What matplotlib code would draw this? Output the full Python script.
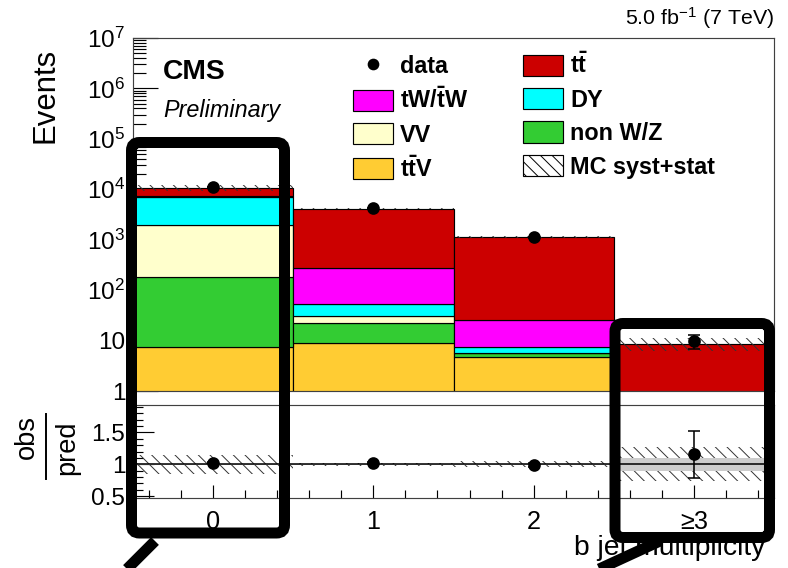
import numpy as np
import matplotlib.pyplot as plt
from matplotlib.patches import FancyBboxPatch, Patch
from matplotlib.lines import Line2D
from matplotlib.ticker import FixedLocator, MultipleLocator, LogLocator, FuncFormatter, NullFormatter

plt.rcParams['font.family'] = ['Liberation Sans', 'DejaVu Sans']
plt.rcParams['mathtext.fontset'] = 'custom'
plt.rcParams['mathtext.rm'] = 'Liberation Sans'
plt.rcParams['mathtext.bf'] = 'Liberation Sans:bold'
plt.rcParams['mathtext.it'] = 'Liberation Sans:italic'
plt.rcParams['mathtext.sf'] = 'Liberation Sans'
plt.rcParams['hatch.linewidth'] = 0.5

# b jet multiplicity bins
bins = [0, 1, 2, 3]
bin_labels = ['0', '1', '2', '≥3']

# observed events
data = [11000, 4180, 1120, 10]

# MC stack, bottom to top
ttv = [7.6, 8.9, 4.8, 0.3]
nonwz = [175, 13.3, 0.8, 0.05]
vv = [1750, 9.2, 0.2, 0.02]
dy = [5200, 21.6, 1.5, 0.1]
tw = [300, 217, 18.5, 0.4]
ttbar = [3300, 3830, 1111, 7.8]

# relative uncertainties
syst_rel = [0.15, 0.02, 0.05, 0.27]
stat_rel = [0.01, 0.005, 0.01, 0.10]

stack = [
    (ttv, '#ffcc33', r'$\mathbf{t\bar{t}V}$'),
    (nonwz, '#33cc33', 'non W/Z'),
    (vv, '#ffffcc', 'VV'),
    (dy, '#00ffff', 'DY'),
    (tw, '#ff00ff', r'$\mathbf{tW/\bar{t}W}$'),
    (ttbar, '#cc0000', r'$\mathbf{t\bar{t}}$'),
]

HATCH = '\\\\\\\\'

W, H, DPI = 788, 568, 140
fig = plt.figure(figsize=(W / DPI, H / DPI), dpi=DPI)
ax = fig.add_axes([133 / W, 1 - 391 / H, (774 - 133) / W, (391 - 38) / H])
rax = fig.add_axes([133 / W, 1 - 498 / H, (774 - 133) / W, (498 - 405) / H])

x = np.array(bins, dtype=float)
data = np.array(data, dtype=float)

#stacked MC
bottom = np.zeros(len(bins))
handles = {}
for vals, col, lab in stack:
    vals = np.array(vals)
    ax.bar(x, vals, bottom=bottom, width=1.0, color=col, edgecolor='black', linewidth=0.6, zorder=2)
    handles[lab] = Patch(facecolor=col, edgecolor='black', linewidth=0.6)
    bottom = bottom + vals
total = bottom

#syst band main
err = np.array(syst_rel)
ax.bar(x, 2 * err * total, bottom=total * (1 - err), width=1.0, fill=False,
       hatch=HATCH, edgecolor='0.2', linewidth=0, zorder=3)

#data
ax.errorbar(x, data, yerr=np.sqrt(data), fmt='o', color='black', ms=5.5,
            capsize=3, elinewidth=0.8, capthick=0.8, zorder=5)

ax.set_yscale('log')
ax.set_ylim(1, 1e7)
ax.set_xlim(-0.5, 3.5)

def logfmt(v, pos):
    n = int(round(np.log10(v)))
    if n == 0:
        return '1'
    if n == 1:
        return '10'
    return r'$10^{%d}$' % n

ax.yaxis.set_major_locator(LogLocator(base=10, numticks=10))
ax.yaxis.set_major_formatter(FuncFormatter(logfmt))
ax.yaxis.set_minor_locator(LogLocator(base=10, subs=np.arange(2, 10), numticks=20))
ax.yaxis.set_minor_formatter(NullFormatter())
ax.xaxis.set_major_locator(FixedLocator(bins))
ax.xaxis.set_minor_locator(MultipleLocator(0.2))
ax.tick_params(axis='y', which='major', direction='in', length=13, width=0.6, labelsize=12.5, pad=4)
ax.tick_params(axis='y', which='minor', direction='in', length=6.5, width=0.6)
ax.tick_params(axis='x', which='major', direction='in', length=7, width=0.6, labelbottom=False)
ax.tick_params(axis='x', which='minor', direction='in', length=3.5, width=0.6)
for sp in ax.spines.values():
    sp.set_linewidth(0.6)
    sp.set_color('0.25')

#legend
leg_handles = [
    Line2D([], [], marker='o', color='black', ls='none', ms=5),
    handles[r'$\mathbf{tW/\bar{t}W}$'],
    handles['VV'],
    handles[r'$\mathbf{t\bar{t}V}$'],
    handles[r'$\mathbf{t\bar{t}}$'],
    handles['DY'],
    handles['non W/Z'],
    Patch(facecolor='white', edgecolor='black', hatch=HATCH, linewidth=0.6),
]
leg_labels = ['data', r'$\mathbf{tW/\bar{t}W}$', 'VV', r'$\mathbf{t\bar{t}V}$',
              r'$\mathbf{t\bar{t}}$', 'DY', 'non W/Z', 'MC syst+stat']
fig.legend(leg_handles, leg_labels, ncol=2, loc='upper left',
           bbox_to_anchor=(353 / W, 1 - 53 / H), frameon=False,
           prop={'weight': 'bold', 'size': 12}, handlelength=1.72, handleheight=1.03,
           handletextpad=0.3, columnspacing=2.35, labelspacing=0.42,
           borderpad=0, borderaxespad=0)

fig.text(163 / W, 1 - 72 / H, 'CMS', fontsize=14.5, fontweight='bold', ha='left', va='center')
fig.text(163 / W, 1 - 110 / H, 'Preliminary', fontsize=12, style='italic', ha='left', va='center')
fig.text(774 / W, 1 - 18 / H, r'5.0 fb$^{-1}$ (7 TeV)', fontsize=11, ha='right', va='center')
fig.text(45 / W, 1 - 95 / H, 'Events', fontsize=16, rotation=90, ha='center', va='center')

#ratio panel
ratio = data / total
ratio_err = np.sqrt(data) / total
syst = np.array(syst_rel)
stat = np.array(stat_rel)
rax.bar(x, 2 * syst, bottom=1 - syst, width=1.0, fill=False, hatch=HATCH,
        edgecolor='0.2', linewidth=0, zorder=2)
rax.bar(x, 2 * stat, bottom=1 - stat, width=1.0, color='#cccccc', linewidth=0, zorder=3)
rax.axhline(1, color='black', lw=0.8, zorder=4)
rax.errorbar(x, ratio, yerr=ratio_err, fmt='o', color='black', ms=5.5,
             capsize=3, elinewidth=0.8, capthick=0.8, zorder=5)
rax.set_xlim(-0.5, 3.5)
rax.set_ylim(0.47, 1.93)
rax.set_xticks(bins, bin_labels)
rax.xaxis.set_minor_locator(MultipleLocator(0.2))
rax.yaxis.set_major_locator(FixedLocator([0.5, 1, 1.5]))
rax.yaxis.set_major_formatter(FuncFormatter(lambda v, p: '%g' % v))
rax.yaxis.set_minor_locator(MultipleLocator(0.1))
rax.tick_params(axis='y', which='major', direction='in', length=11, width=0.6, labelsize=12.5, pad=4)
rax.tick_params(axis='y', which='minor', direction='in', length=5, width=0.6)
rax.tick_params(axis='x', which='major', direction='in', length=6.5, width=0.6, labelsize=13, pad=6)
rax.tick_params(axis='x', which='minor', direction='in', length=4, width=0.6)
for sp in rax.spines.values():
    sp.set_linewidth(0.6)
    sp.set_color('0.25')

# obs/pred title as a rotated fraction
fig.text(27 / W, 1 - 437 / H, 'obs', fontsize=14, rotation=90, ha='center', va='center')
fig.text(67 / W, 1 - 448 / H, 'pred', fontsize=14, rotation=90, ha='center', va='center')
fig.add_artist(Line2D([46 / W, 46 / W], [1 - 414 / H, 1 - 479 / H],
                      transform=fig.transFigure, color='black', lw=1.0))
fig.text(765 / W, 1 - 548 / H, 'b jet multiplicity', fontsize=14.5, ha='right', va='center')

# highlight boxes drawn over the figure (pixel positions from the top-left)
boxes = [(131.5, 142.5, 284.5, 533), (615, 323.5, 769.5, 537.5)]
pointers = [((155, 541), (114, 582)), ((660, 541), (571, 582))]
lw_pt = 11 * 72 / DPI
for x0, y0, x1, y1 in boxes:
    fig.add_artist(FancyBboxPatch((x0 / DPI, (H - y1) / DPI), (x1 - x0) / DPI, (y1 - y0) / DPI,
                                  boxstyle='round,pad=0,rounding_size=%f' % (8 / DPI),
                                  transform=fig.dpi_scale_trans, fill=False,
                                  edgecolor='black', linewidth=lw_pt, zorder=10))
for (xa, ya), (xb, yb) in pointers:
    fig.add_artist(Line2D([xa / DPI, xb / DPI], [(H - ya) / DPI, (H - yb) / DPI],
                          transform=fig.dpi_scale_trans, color='black', lw=lw_pt,
                          solid_capstyle='butt', zorder=10))

fig.savefig('out.png', dpi=DPI)
